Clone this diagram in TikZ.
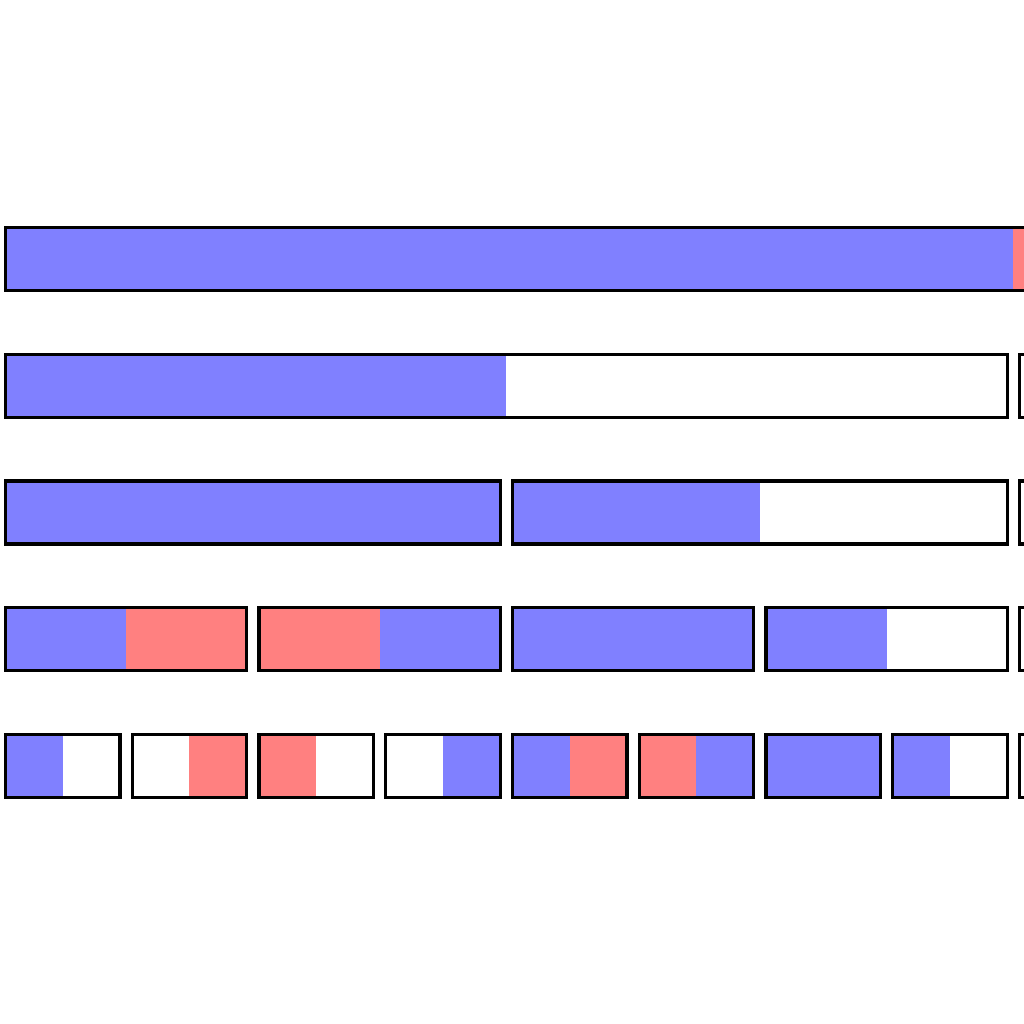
\documentclass[tikz,border=0pt]{standalone}
\definecolor{cellblue}{HTML}{8080FF}
\definecolor{cellred}{HTML}{FF8080}
\begin{document}
\begin{tikzpicture}[
    x=1cm, y=-1cm,
    cellbox/.style={draw=black, line width=0.75pt},
    B/.style={fill=cellblue},
    R/.style={fill=cellred},
    W/.style={fill=white}
]

    % Page frame (the picture runs past the right edge)
    \useasboundingbox (0,0) rectangle (8.079,8.079);
    \clip (0,0) rectangle (8.079,8.079);

    % Rows of cells: row / index / left half / right half
    \foreach \r/\j/\cl/\cr in {
        0/0/B/R,
        1/0/B/W, 1/1/W/W,
        2/0/B/B, 2/1/B/W, 2/2/W/W,
        3/0/B/R, 3/1/R/B, 3/2/B/B, 3/3/B/W, 3/4/W/W,
        4/0/B/W, 4/1/W/R, 4/2/R/W, 4/3/W/B, 4/4/B/R, 4/5/R/B, 4/6/B/B, 4/7/B/W, 4/8/W/W}
    {
        \pgfmathsetmacro{\w}{2^(4-\r)}
        \pgfmathsetmacro{\xa}{0.0434+\j*\w}
        \pgfmathsetmacro{\xb}{\xa+\w-0.097}
        \pgfmathsetmacro{\xm}{(\xa+\xb)/2}
        \pgfmathsetmacro{\ya}{1.795+\r}
        \pgfmathsetmacro{\yb}{\ya+0.497}
        \path[\cl] (\xa,\ya) rectangle (\xm,\yb);
        \path[\cr] (\xm,\ya) rectangle (\xb,\yb);
        \draw[cellbox] (\xa,\ya) rectangle (\xb,\yb);
    }

\end{tikzpicture}
\end{document}
